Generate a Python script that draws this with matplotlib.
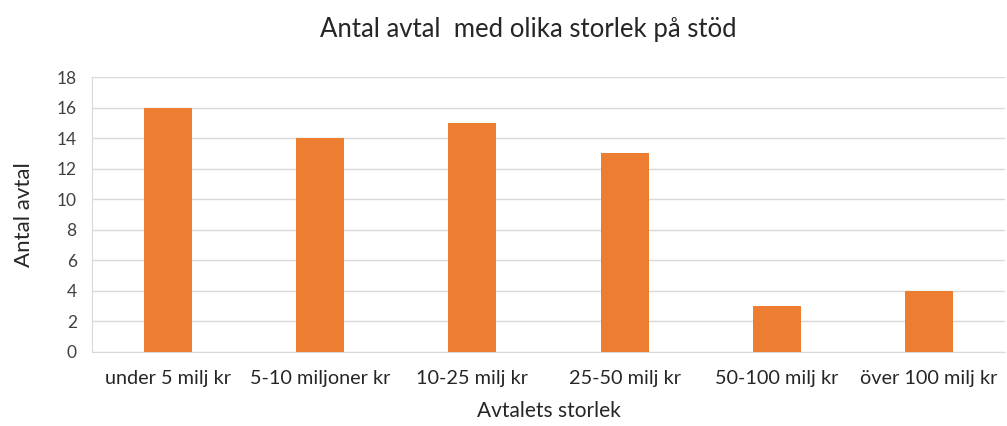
import numpy as np
import matplotlib.pyplot as plt

kategorier = ["under 5 milj kr", "5-10 miljoner kr", "10-25 milj kr",
              "25-50 milj kr", "50-100 milj kr", "över 100 milj kr"]
antal = [16, 14, 15, 13, 3, 4]
y_ticks = list(range(0, 19, 2))

plt.rcParams['font.family'] = ['Lato', 'DejaVu Sans']

fig = plt.figure(figsize=(10.07, 4.26), dpi=100)
ax = fig.add_axes([92 / 1007, 1 - 352 / 426, 913 / 1007, 275 / 426])

x = np.arange(len(kategorier))
ax.bar(x, antal, width=0.315, color='#ED7D31', zorder=3)

ax.set_xlim(-0.5, len(kategorier) - 0.5)
ax.set_ylim(0, 18)
ax.set_yticks(y_ticks)
ax.set_xticks(x)
ax.set_xticklabels(kategorier, fontsize=14.3, color='#262626')
ax.tick_params(axis='y', labelsize=12.5, colors='#404040', length=0, pad=11)
ax.tick_params(axis='x', length=0, pad=13)
ax.grid(axis='y', color='#D9D9D9', linewidth=1, zorder=0)

for s in ['top', 'right']:
    ax.spines[s].set_visible(False)
ax.spines['left'].set_color('#D9D9D9')
ax.spines['bottom'].set_color('#D9D9D9')

ax.set_xlabel('Avtalets storlek', fontsize=15, color='#262626', labelpad=10)
ax.set_ylabel('Antal avtal', fontsize=16, color='#262626', labelpad=16)
fig.suptitle('Antal avtal  med olika storlek på stöd', fontsize=18.5,
             color='#262626', x=0.525, y=0.96)

fig.savefig('out.png', dpi=100)
